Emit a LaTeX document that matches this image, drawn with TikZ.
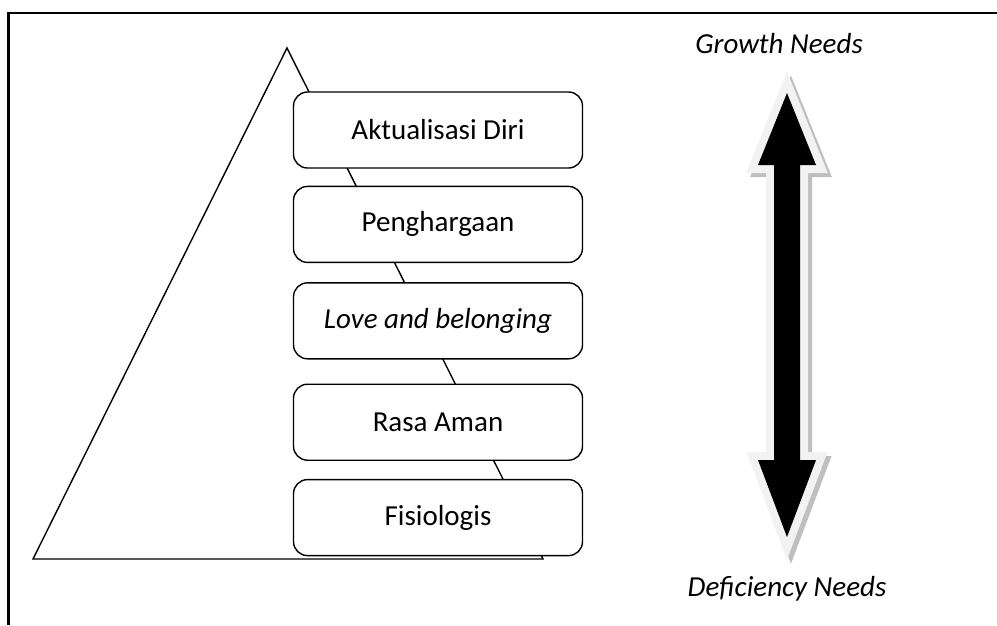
\documentclass[tikz,border=0pt]{standalone}
\usepackage{fontspec}
\setmainfont{Carlito}
\usepackage{xcolor}
\usetikzlibrary{positioning}
\definecolor{ArrGray}{RGB}{242,242,242}
\definecolor{ArrShadow}{RGB}{191,191,191}
\begin{document}
\begin{tikzpicture}[x=1pt,y=-1pt,
        level/.style={draw=black,fill=white,rounded corners=14pt,line width=1.4pt,
                      minimum width=289pt,minimum height=76pt,inner sep=0pt,
                      font=\fontsize{29}{34}\selectfont,align=center},
        needs/.style={font=\fontsize{29}{34}\selectfont\itshape},
        pyr/.style={draw=black,line width=1.4pt,line join=miter}
      ]
        \useasboundingbox (0,0) rectangle (997,625);
        % frame
        \draw[line width=2.2pt] (997,13) -- (8.5,13) -- (8.5,625);
        % pyramid
        \coordinate (apex) at (287,48);
        \coordinate (bl) at (33,559);
        \coordinate (br) at (543,559);
        \draw[pyr] (apex) -- (bl) -- (br) -- cycle;
        % levels
        \node[level] (A) at (438,130) {Aktualisasi Diri};
        \node[level,below=17pt of A] (P) {Penghargaan};
        \node[level,below=19pt of P] (L) {\itshape Love and belonging};
        \node[level,below=24pt of L] (R) {Rasa Aman};
        \node[level,below=18pt of R] (F) {Fisiologis};
        % double arrow
        \def\dblarrow{(787,93) -- (816,165) -- (800,165) -- (800,460) -- (816,460)
          -- (787,537) -- (758,460) -- (774,460) -- (774,165) -- (758,165) -- cycle}
        \draw[ArrShadow,fill=ArrShadow,line width=16pt,line join=miter,shift={(4,4)}] \dblarrow;
        \draw[ArrGray,fill=ArrGray,line width=16pt,line join=miter] \dblarrow;
        \fill[black] \dblarrow;
        \node[needs] (G) at (779,44) {Growth Needs};
        \node[needs] (D) at (787,589) {Deficiency Needs};
      \end{tikzpicture}
\end{document}
